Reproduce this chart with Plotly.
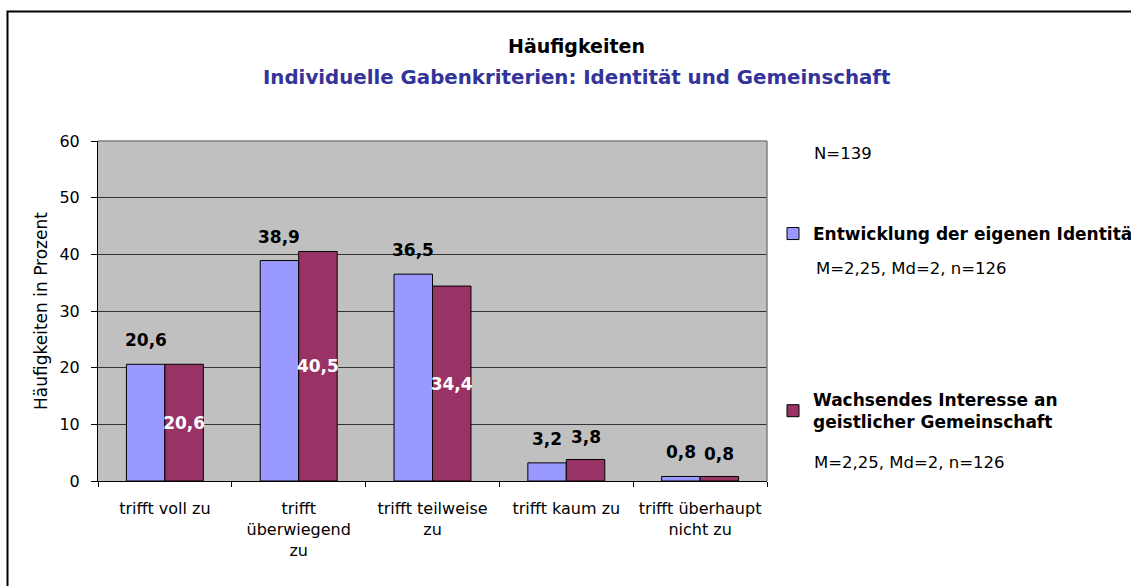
import plotly.graph_objects as go

categories = ["trifft voll zu", "trifft überwiegend zu", "trifft teilweise zu",
              "trifft kaum zu", "trifft überhaupt nicht zu"]
tick_labels = ["trifft voll zu", "trifft<br>überwiegend<br>zu", "trifft teilweise<br>zu",
               "trifft kaum zu", "trifft überhaupt<br>nicht zu"]
identitaet = [20.6, 38.9, 36.5, 3.2, 0.8]
gemeinschaft = [20.6, 40.5, 34.4, 3.8, 0.8]
series_names = ["Entwicklung der eigenen Identität",
                "Wachsendes Interesse an<br>geistlicher Gemeinschaft"]
series_notes = ["M=2,25, Md=2, n=126", "M=2,25, Md=2, n=126"]
total_n = "N=139"

BLUE = "#9999FF"
RED = "#993366"
FONT = "DejaVu Sans"

def fmt(v):
    return f"{v:.1f}".replace(".", ",")

fig = go.Figure()
fig.add_trace(go.Bar(
    x=categories, y=identitaet, name=series_names[0], legendgroup="a",
    marker=dict(color=BLUE, line=dict(color="black", width=1)),
    textposition="none",
))
fig.add_trace(go.Bar(
    x=categories, y=gemeinschaft, name=series_names[1], legendgroup="b",
    marker=dict(color=RED, line=dict(color="black", width=1)),
    text=[fmt(v) if v > 10 else "" for v in gemeinschaft],
    textposition="inside", insidetextanchor="middle", textangle=0,
    textfont=dict(family=FONT, size=17, color="white", weight="bold"),
))

annotations = []
BAR_OFF = 19.3
for c, v in zip(categories, identitaet):
    annotations.append(dict(x=c, y=v, xref="x", yref="y", text=fmt(v), showarrow=False,
                            xshift=-BAR_OFF, yshift=24, yanchor="middle",
                            font=dict(family=FONT, size=17, color="black", weight="bold")))
for c, v in zip(categories, gemeinschaft):
    if v <= 10:
        annotations.append(dict(x=c, y=v, xref="x", yref="y", text=fmt(v), showarrow=False,
                                xshift=BAR_OFF, yshift=22, yanchor="middle",
                                font=dict(family=FONT, size=17, color="black", weight="bold")))

# plot area in px: x 98..767, y 141..481
def px_x(px):
    return (px - 98) / 669.0

def px_y(py):
    return (481 - py) / 340.0

note_font = dict(family=FONT, size=16.5, color="black")
annotations.append(dict(x=px_x(812), y=px_y(153), xref="paper", yref="paper", text=total_n,
                        showarrow=False, xanchor="left", yanchor="middle", font=note_font))
annotations.append(dict(x=px_x(814), y=px_y(268), xref="paper", yref="paper", text=series_notes[0],
                        showarrow=False, xanchor="left", yanchor="middle", font=note_font))
annotations.append(dict(x=px_x(812), y=px_y(462), xref="paper", yref="paper", text=series_notes[1],
                        showarrow=False, xanchor="left", yanchor="middle", font=note_font))
# titles
annotations.append(dict(x=px_x(576), y=px_y(46), xref="paper", yref="paper",
                        text="Häufigkeiten", showarrow=False, xanchor="center", yanchor="middle",
                        font=dict(family=FONT, size=19, color="black", weight="bold")))
annotations.append(dict(x=px_x(576), y=px_y(77), xref="paper", yref="paper",
                        text="Individuelle Gabenkriterien: Identität und Gemeinschaft",
                        showarrow=False, xanchor="center", yanchor="middle",
                        font=dict(family=FONT, size=19.8, color="#333399", weight="bold")))

shapes = [
    # outer chart border (extends beyond the visible window on right/bottom)
    dict(type="rect", xref="paper", yref="paper", x0=px_x(7.5), x1=px_x(1140),
         y0=px_y(600), y1=px_y(11.5), line=dict(color="black", width=2), layer="above"),
    # plot-area border top and right (grey)
    dict(type="line", xref="paper", yref="paper", x0=0, x1=1, y0=1, y1=1,
         line=dict(color="#808080", width=1.5), layer="above"),
    dict(type="line", xref="paper", yref="paper", x0=1, x1=1, y0=0, y1=1,
         line=dict(color="#808080", width=1.5), layer="above"),
]

fig.update_layout(
    width=1131, height=586,
    margin=dict(l=98, r=364, t=141, b=105, autoexpand=False),
    paper_bgcolor="white", plot_bgcolor="#C0C0C0",
    separators=",.",
    barmode="group", bargap=0.425, bargroupgap=0,
    font=dict(family=FONT, size=16, color="black"),
    uniformtext=dict(minsize=17, mode="show"),
    showlegend=True,
    legend=dict(x=px_x(773), xanchor="left", y=px_y(216), yanchor="top",
                bgcolor="rgba(0,0,0,0)", tracegroupgap=141,
                font=dict(family=FONT, size=17, color="black", weight="bold"),
                itemclick=False, itemdoubleclick=False),
    annotations=annotations,
    shapes=shapes,
)
fig.update_xaxes(
    tickmode="array", tickvals=categories, ticktext=tick_labels,
    tickson="boundaries", ticks="outside", ticklen=5, tickcolor="black",
    showline=True, linecolor="black", linewidth=1, showgrid=False,
    tickfont=dict(family=FONT, size=16, color="black"), ticklabelstandoff=13,
)
fig.update_yaxes(
    range=[0, 60], dtick=10, ticks="outside", ticklen=6, tickcolor="black",
    showline=True, linecolor="black", linewidth=1,
    showgrid=True, gridcolor="#333333", gridwidth=1, zeroline=False,
    tickfont=dict(family=FONT, size=16, color="black"), ticklabelstandoff=8,
    title=dict(text="Häufigkeiten in Prozent", standoff=7,
               font=dict(family=FONT, size=17, color="black")),
)

fig.write_html("out.html", config={"displayModeBar": False},
               post_script="document.body.style.margin='0px';document.body.style.padding='0px';")
